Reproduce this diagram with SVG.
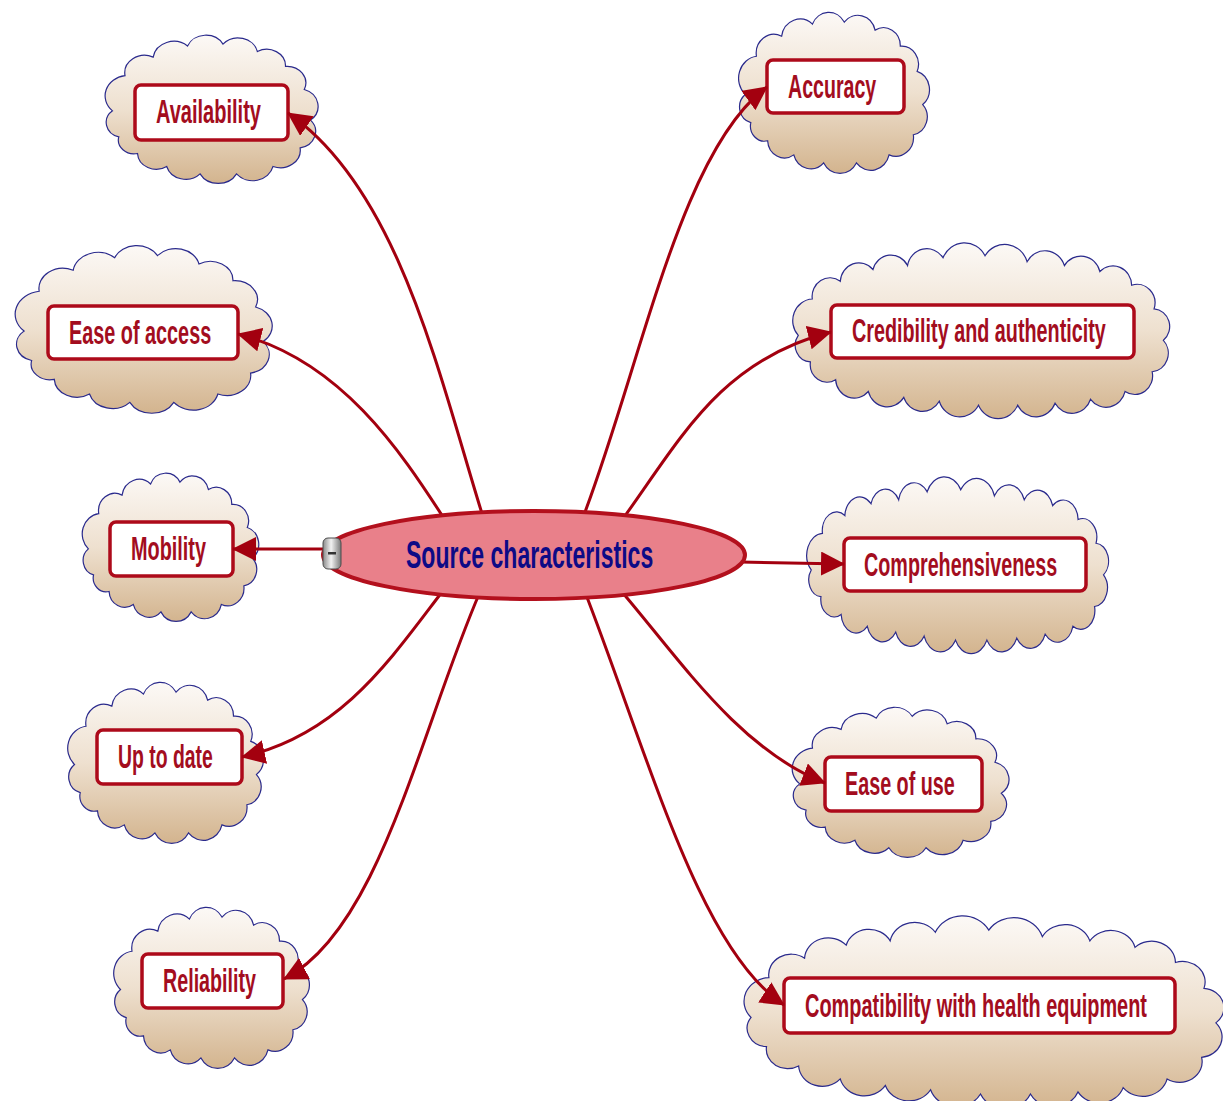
<svg xmlns="http://www.w3.org/2000/svg" xmlns:xlink="http://www.w3.org/1999/xlink" width="1223" height="1101" viewBox="0 0 1223 1101">
  <defs>
    <linearGradient id="cloudFill" x1="0" y1="0" x2="0" y2="1">
      <stop offset="0" stop-color="#fcf9f6"/>
      <stop offset="0.5" stop-color="#eee0cf"/>
      <stop offset="1" stop-color="#d3b48e"/>
    </linearGradient>
    <linearGradient id="btnFill" x1="0" y1="0" x2="1" y2="0">
      <stop offset="0" stop-color="#8a8a8a"/>
      <stop offset="0.45" stop-color="#f2f2f2"/>
      <stop offset="1" stop-color="#7a7a7a"/>
    </linearGradient>
    <!-- compact cloud outline -->
    <symbol id="cloud" viewBox="-6 -6 213 164" preserveAspectRatio="none" overflow="visible">
      <path class="cloud" d="M6,78 A22,22 0 0 1 18,40 A19,19 0 0 1 45,20 A20,20 0 0 1 78,8 A19,19 0 0 1 112,6 A19,19 0 0 1 145,14 A18,18 0 0 1 172,30 A18,18 0 0 1 190,55 A19,19 0 0 1 196,88 A18,18 0 0 1 186,118 A19,19 0 0 1 160,138 A20,20 0 0 1 125,146 A20,20 0 0 1 90,146 A19,19 0 0 1 58,138 A18,18 0 0 1 30,124 A15,15 0 0 1 12,106 A16,16 0 0 1 6,78 Z"/>
    </symbol>
    <!-- wide cloud outline -->
    <symbol id="cloudWide" viewBox="-6 -10 408 178" preserveAspectRatio="none" overflow="visible">
      <path class="cloud" d="M5,85 A22,22 0 0 1 20,48 A19,19 0 0 1 50,30 A20,20 0 0 1 85,18 A20,20 0 0 1 122,14 A21,21 0 0 1 160,6 A25,25 0 0 1 205,4 A25,25 0 0 1 250,10 A22,22 0 0 1 290,14 A21,21 0 0 1 328,20 A20,20 0 0 1 362,34 A19,19 0 0 1 386,58 A18,18 0 0 1 396,90 A19,19 0 0 1 384,122 A19,19 0 0 1 355,142 A21,21 0 0 1 318,150 A21,21 0 0 1 280,154 A22,22 0 0 1 240,156 A23,23 0 0 1 198,156 A23,23 0 0 1 156,152 A21,21 0 0 1 118,148 A21,21 0 0 1 80,142 A20,20 0 0 1 45,130 A18,18 0 0 1 18,112 A17,17 0 0 1 5,85 Z"/>
    </symbol>
    <marker id="arrow" viewBox="0 0 24 24" refX="23" refY="12" markerWidth="24" markerHeight="24" markerUnits="userSpaceOnUse" orient="auto">
      <path d="M0,0 L24,12 L0,24 Z" fill="#a3000f"/>
    </marker>
  </defs>
  <style>
    .cloud { fill: url(#cloudFill); stroke: #2a2a8c; stroke-width: 1.2; vector-effect: non-scaling-stroke; }
    .box { fill: #ffffff; stroke: #ad0a1a; stroke-width: 3.5; }
    .label { font-family: "Liberation Sans", Arial, sans-serif; font-weight: bold; font-size: 33px; fill: #a30d1e; }
    .title { font-family: "Liberation Sans", Arial, sans-serif; font-weight: bold; font-size: 38px; fill: #0d0a86; }
    .link { fill: none; stroke: #a3000f; stroke-width: 3; marker-end: url(#arrow); }
  </style>

  <rect width="1223" height="1101" fill="#ffffff"/>

  <!-- left branch topics; labels are condensed horizontally to 60% -->
  <g id="node-availability">
    <use href="#cloud" x="100" y="33" width="222" height="152"/>
    <rect class="box" x="135" y="85" width="153" height="55" rx="6"/>
    <text class="label" transform="translate(156,123) scale(0.6,1)" textLength="175" lengthAdjust="spacingAndGlyphs">Availability</text>
  </g>
  <g id="node-ease-of-access">
    <use href="#cloud" x="9" y="243" width="268" height="172"/>
    <rect class="box" x="48" y="306" width="190" height="53" rx="6"/>
    <text class="label" transform="translate(69,344) scale(0.6,1)" textLength="237" lengthAdjust="spacingAndGlyphs">Ease of access</text>
  </g>
  <g id="node-mobility">
    <use href="#cloud" x="78" y="471" width="184" height="152"/>
    <rect class="box" x="110" y="522" width="123" height="54" rx="6"/>
    <text class="label" transform="translate(131,560) scale(0.6,1)" textLength="125" lengthAdjust="spacingAndGlyphs">Mobility</text>
  </g>
  <g id="node-up-to-date">
    <use href="#cloud" x="63" y="680" width="204" height="165"/>
    <rect class="box" x="97" y="730" width="145" height="54" rx="6"/>
    <text class="label" transform="translate(118,768) scale(0.6,1)" textLength="158" lengthAdjust="spacingAndGlyphs">Up to date</text>
  </g>
  <g id="node-reliability">
    <use href="#cloud" x="109" y="905" width="204" height="165"/>
    <rect class="box" x="142" y="954" width="141" height="54" rx="6"/>
    <text class="label" transform="translate(163,992) scale(0.6,1)" textLength="155" lengthAdjust="spacingAndGlyphs">Reliability</text>
  </g>

  <!-- right branch topics -->
  <g id="node-accuracy">
    <use href="#cloud" x="734" y="10" width="199" height="165"/>
    <rect class="box" x="767" y="60" width="137" height="53" rx="6"/>
    <text class="label" transform="translate(788,98) scale(0.6,1)" textLength="147" lengthAdjust="spacingAndGlyphs">Accuracy</text>
  </g>
  <g id="node-credibility">
    <use href="#cloudWide" x="788" y="242" width="381" height="175"/>
    <rect class="box" x="831" y="305" width="303" height="53" rx="6"/>
    <text class="label" transform="translate(852,342) scale(0.6,1)" textLength="423" lengthAdjust="spacingAndGlyphs">Credibility and authenticity</text>
  </g>
  <g id="node-comprehensiveness">
    <use href="#cloudWide" x="803" y="476" width="305" height="176"/>
    <rect class="box" x="844" y="538" width="242" height="53" rx="6"/>
    <text class="label" transform="translate(864,576) scale(0.6,1)" textLength="322" lengthAdjust="spacingAndGlyphs">Comprehensiveness</text>
  </g>
  <g id="node-ease-of-use">
    <use href="#cloud" x="787" y="705" width="226" height="154"/>
    <rect class="box" x="825" y="757" width="157" height="54" rx="6"/>
    <text class="label" transform="translate(845,795) scale(0.6,1)" textLength="183" lengthAdjust="spacingAndGlyphs">Ease of use</text>
  </g>
  <g id="node-compatibility">
    <use href="#cloudWide" x="738" y="915" width="485" height="192"/>
    <rect class="box" x="784" y="978" width="391" height="55" rx="6"/>
    <text class="label" transform="translate(805,1017) scale(0.6,1)" textLength="570" lengthAdjust="spacingAndGlyphs">Compatibility with health equipment</text>
  </g>

  <!-- connectors from the central topic -->
  <g id="connectors">
    <path class="link" d="M484,520 C440,380 400,190 288,113"/>
    <path class="link" d="M445,520 C400,450 340,360 238,334"/>
    <path class="link" d="M330,549 L233,549"/>
    <path class="link" d="M442,592 C390,660 340,735 242,757"/>
    <path class="link" d="M480,592 C420,730 380,930 284,979"/>
    <path class="link" d="M582,520 C640,370 680,150 767,87"/>
    <path class="link" d="M622,520 C680,440 720,360 831,332"/>
    <path class="link" d="M740,562 L844,564"/>
    <path class="link" d="M622,592 C680,660 740,750 825,783"/>
    <path class="link" d="M585,592 C650,760 700,950 784,1005"/>
  </g>

  <!-- central topic with its collapse button -->
  <g id="node-source-characteristics">
    <ellipse cx="534" cy="555" rx="211" ry="44" fill="#e9808a" stroke="#b3101d" stroke-width="4"/>
    <text class="title" transform="translate(406,568) scale(0.6,1)" textLength="412" lengthAdjust="spacingAndGlyphs">Source characteristics</text>
    <rect x="323" y="538" width="18" height="31" rx="5" fill="url(#btnFill)" stroke="#4d4d4d" stroke-width="1"/>
    <rect x="328" y="552" width="8" height="2.5" fill="#333333"/>
  </g>
</svg>
